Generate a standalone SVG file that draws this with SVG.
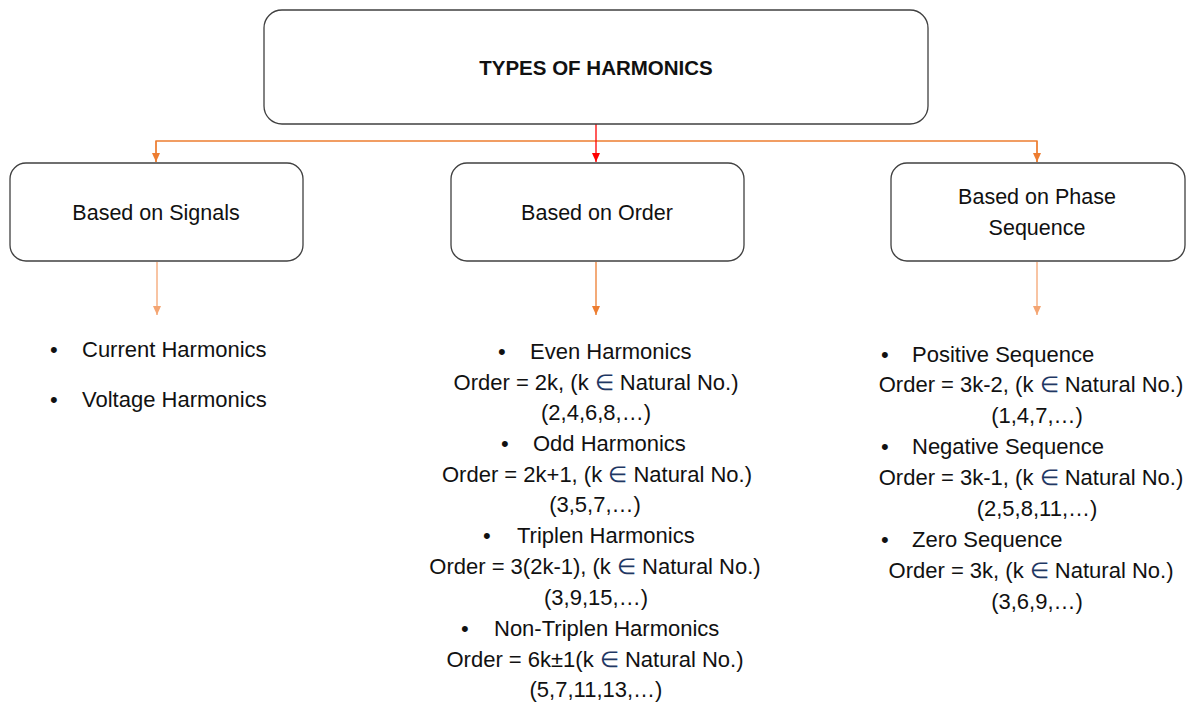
<svg xmlns="http://www.w3.org/2000/svg" width="1194" height="702" viewBox="0 0 1194 702">
<style>
.box{fill:#fff;stroke:#404040;stroke-width:1.3}
.t{font-family:"Liberation Sans",Arial,sans-serif;font-size:22px;fill:#111}
.c{text-anchor:middle}
.b{font-weight:bold;font-size:20.5px}
.bx{font-size:21.5px}
.el{fill:#1F3864}
.or{stroke:#ED7D31;stroke-width:1.3;fill:none}
.orl{stroke:#F4A572;stroke-width:1.3;fill:none}
.rd{stroke:#FF0000;stroke-width:1.3;fill:none}
</style>
<defs>
<marker id="ao" markerWidth="10" markerHeight="10" refX="9" refY="5" orient="auto" markerUnits="userSpaceOnUse"><path d="M0,1 L9,5 L0,9 z" fill="#ED7D31"/></marker>
<marker id="aol" markerWidth="10" markerHeight="10" refX="9" refY="5" orient="auto" markerUnits="userSpaceOnUse"><path d="M0,1 L9,5 L0,9 z" fill="#F4A572"/></marker>
<marker id="ar" markerWidth="10" markerHeight="10" refX="9" refY="5" orient="auto" markerUnits="userSpaceOnUse"><path d="M0,1 L9,5 L0,9 z" fill="#FF0000"/></marker>
</defs>
<rect width="1194" height="702" fill="#fff"/>
<g id="connectors">
<path class="or" d="M156,162 V141 H1037 V162" />
<path class="or" d="M156,141 V162" marker-end="url(#ao)"/>
<path class="or" d="M1037,141 V162" marker-end="url(#ao)"/>
<path class="rd" d="M596,124 V162" marker-end="url(#ar)"/>
<path class="orl" d="M157,262 V315" marker-end="url(#aol)"/>
<path class="or" d="M596,262 V315" marker-end="url(#ao)"/>
<path class="orl" d="M1037,262 V315" marker-end="url(#aol)"/>
</g>
<g id="root">
<rect class="box" x="264" y="10" width="664" height="114" rx="18"/>
<text class="t c b" x="596" y="75">TYPES OF HARMONICS</text>
</g>
<g id="signals">
<rect class="box" x="10" y="163" width="293" height="98" rx="16"/>
<text class="t c bx" x="156" y="220">Based on Signals</text>
</g>
<g id="order">
<rect class="box" x="451" y="163" width="293" height="98" rx="16"/>
<text class="t c bx" x="597" y="220">Based on Order</text>
</g>
<g id="phase">
<rect class="box" x="891" y="163" width="294" height="98" rx="16"/>
<text class="t c bx" x="1037" y="204">Based on Phase</text>
<text class="t c bx" x="1037" y="235">Sequence</text>
</g>
<g id="signals-list">
<text class="t" x="50" y="357">•</text><text class="t" x="82" y="357">Current Harmonics</text>
<text class="t" x="50" y="407">•</text><text class="t" x="82" y="407">Voltage Harmonics</text>
</g>
<g id="order-list">
<text class="t" x="498" y="359">•</text><text class="t" x="530" y="359">Even Harmonics</text>
<text class="t c" x="596" y="390">Order = 2k, (k <tspan class="el">∈</tspan> Natural No.)</text>
<text class="t c" x="596" y="420">(2,4,6,8,…)</text>
<text class="t" x="501" y="451">•</text><text class="t" x="533" y="451">Odd Harmonics</text>
<text class="t c" x="597" y="482">Order = 2k+1, (k <tspan class="el">∈</tspan> Natural No.)</text>
<text class="t c" x="595" y="512">(3,5,7,…)</text>
<text class="t" x="483" y="543">•</text><text class="t" x="517" y="543">Triplen Harmonics</text>
<text class="t c" x="595" y="574">Order = 3(2k-1), (k <tspan class="el">∈</tspan> Natural No.)</text>
<text class="t c" x="596" y="605">(3,9,15,…)</text>
<text class="t" x="461" y="636">•</text><text class="t" x="494" y="636">Non-Triplen Harmonics</text>
<text class="t c" x="595" y="667">Order = 6k±1(k <tspan class="el">∈</tspan> Natural No.)</text>
<text class="t c" x="596" y="697">(5,7,11,13,…)</text>
</g>
<g id="phase-list">
<text class="t" x="881" y="362">•</text><text class="t" x="912" y="362">Positive Sequence</text>
<text class="t c" x="1031" y="392">Order = 3k-2, (k <tspan class="el">∈</tspan> Natural No.)</text>
<text class="t c" x="1037" y="423">(1,4,7,…)</text>
<text class="t" x="881" y="454">•</text><text class="t" x="912" y="454">Negative Sequence</text>
<text class="t c" x="1031" y="485">Order = 3k-1, (k <tspan class="el">∈</tspan> Natural No.)</text>
<text class="t c" x="1037" y="516">(2,5,8,11,…)</text>
<text class="t" x="881" y="547">•</text><text class="t" x="912" y="547">Zero Sequence</text>
<text class="t c" x="1031" y="578">Order = 3k, (k <tspan class="el">∈</tspan> Natural No.)</text>
<text class="t c" x="1037" y="609">(3,6,9,…)</text>
</g>
</svg>
